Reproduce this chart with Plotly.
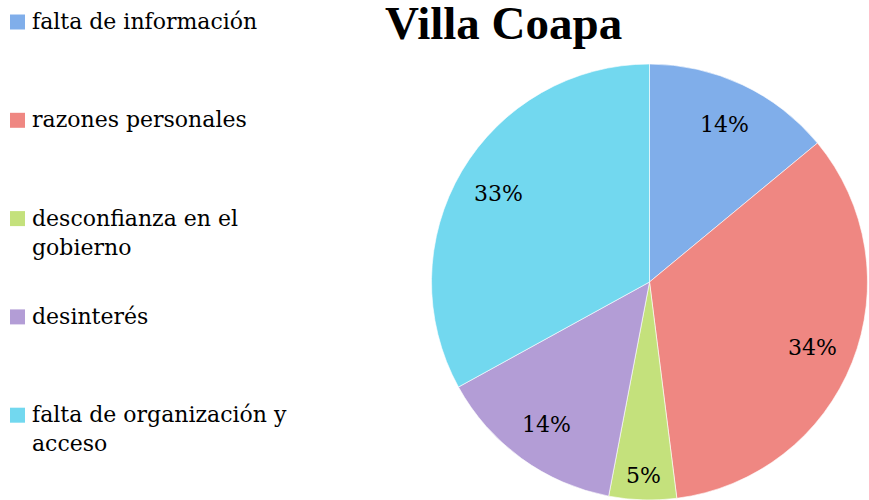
import math
import plotly.graph_objects as go

labels = ["falta de información", "razones personales", "desconfianza en el gobierno",
          "desinterés", "falta de organización y acceso"]
legend_text = ["falta de información", "razones personales", "desconfianza en el<br>gobierno",
               "desinterés", "falta de organización y<br>acceso"]
values = [14, 34, 5, 14, 33]
colors = ["#80aeea", "#ef8782", "#c4e17c", "#b39dd6", "#72d8ef"]
label_radius = [0.8, 0.8, 0.88, 0.8, 0.8]

W, H = 869, 500


def px(x, y):
    return x / W, 1 - y / H


CX, CY, R = 649.5, 283, 219

fig = go.Figure()
x0, y0 = px(CX - R, CY + R)
x1, y1 = px(CX + R, CY - R)
fig.add_trace(go.Pie(
    labels=labels, values=values, sort=False, direction="clockwise", rotation=0,
    marker=dict(colors=colors, line=dict(color="rgba(255,255,255,0.6)", width=1)),
    textinfo="none", textposition="none",
    domain=dict(x=[x0, min(x1, 1)], y=[max(y0, 0), y1]),
    showlegend=False,
))

# percentage labels placed along each slice bisector
total = sum(values)
cum = 0
for v, k in zip(values, label_radius):
    theta = 2 * math.pi * (cum + v / 2) / total
    cum += v
    lx = CX + k * R * math.sin(theta)
    ly = CY - k * R * math.cos(theta)
    ax, ay = px(lx, ly)
    fig.add_annotation(text=f"{round(100 * v / total)}%", x=ax, y=ay, xref="paper", yref="paper",
                       xanchor="center", yanchor="middle", showarrow=False,
                       font=dict(family="DejaVu Serif", size=22, color="black"))

tx, ty = px(503, 23)
fig.add_annotation(text="<b>Villa Coapa</b>", x=tx, y=ty, xref="paper", yref="paper",
                   xanchor="center", yanchor="middle", showarrow=False,
                   font=dict(family="Liberation Serif", size=47, color="black"))

for i, (t, c) in enumerate(zip(legend_text, colors)):
    cy = 22 + 98.3 * i
    sx0, sy0 = px(10, cy - 7.5)
    sx1, sy1 = px(25, cy + 7.5)
    fig.add_shape(type="rect", xref="paper", yref="paper",
                  x0=sx0, x1=sx1, y0=sy0, y1=sy1,
                  fillcolor=c, line=dict(width=0))
    ax, ay = px(30, cy - 15)
    fig.add_annotation(text=t, x=ax, y=ay, xref="paper", yref="paper",
                       xanchor="left", yanchor="top", align="left", showarrow=False,
                       font=dict(family="DejaVu Serif", size=22, color="black"))

fig.update_layout(width=W, height=H, margin=dict(l=0, r=0, t=0, b=0),
                  paper_bgcolor="white", plot_bgcolor="white")
fig.write_html("out.html", config={"displayModeBar": False},
               post_script="document.body.style.margin='0';document.body.style.overflow='hidden';")
